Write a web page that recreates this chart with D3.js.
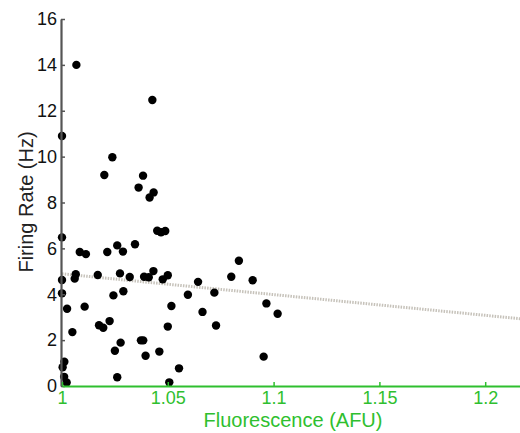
<!DOCTYPE html>
<html>
<head>
<meta charset="utf-8">
<script src="https://cdn.jsdelivr.net/npm/d3@7"></script>
<style>
  html, body { margin: 0; padding: 0; background: #fff; }
  svg { display: block; font-family: "Liberation Sans", Arial, sans-serif; }
</style>
</head>
<body>
<svg id="chart" width="520" height="433"></svg>
<script>
// Data
const fluorescence = [
  1.0068, 1.0000, 1.0238, 1.0200, 1.0383, 1.0427, 1.0362, 1.0433, 1.0414,
  1.0450, 1.0468, 1.0488, 1.0000, 1.0345, 1.0261, 1.0084, 1.0113, 1.0214,
  1.0288, 1.0065, 1.0060, 1.0169, 1.0274, 1.0320, 1.0388, 1.0410, 1.0432,
  1.0476, 1.0500, 1.0000, 1.0000, 1.0643, 1.0595, 1.0243, 1.0290, 1.0024,
  1.0107, 1.0517, 1.0664, 1.0049, 1.0175, 1.0195, 1.0225, 1.0500, 1.0373,
  1.0384, 1.0277, 1.0250, 1.0460, 1.0395, 1.0011, 1.0003, 1.0553, 1.0261,
  1.0010, 1.0022, 1.0507, 1.0836, 1.0800, 1.0901, 1.0720, 1.0966, 1.1019,
  1.0728, 1.0953
];
const firingRate = [
  14.00, 10.90, 9.97, 9.20, 9.17, 12.47, 8.65, 8.44, 8.22,
  6.77, 6.70, 6.76, 6.48, 6.18, 6.13, 5.84, 5.75, 5.84,
  5.86, 4.87, 4.68, 4.84, 4.91, 4.75, 4.76, 4.74, 5.01,
  4.65, 4.83, 4.62, 4.04, 4.54, 3.98, 3.95, 4.13, 3.37,
  3.46, 3.49, 3.23, 2.35, 2.65, 2.54, 2.83, 2.59, 1.99,
  1.99, 1.89, 1.54, 1.50, 1.32, 1.06, 0.82, 0.77, 0.38,
  0.40, 0.15, 0.16, 5.46, 4.76, 4.61, 4.07, 3.60, 3.15,
  2.64, 1.28
];
const trendX = [1.0, 1.22];
const trendY = [4.89, 2.90];
const xTicks = [1, 1.05, 1.1, 1.15, 1.2];
const xTickLabels = ["1", "1.05", "1.1", "1.15", "1.2"];
const yTicks = [0, 2, 4, 6, 8, 10, 12, 14, 16];
const xTitle = "Fluorescence (AFU)";
const yTitle = "Firing Rate (Hz)";

const green = "#2fbf2f";
const svg = d3.select("#chart");

const x = d3.scaleLinear().domain([1, 1.22]).range([62, 62 + 0.22 * 2116]);
const y = d3.scaleLinear().domain([0, 16]).range([386, 19]);

// Trend line (dotted, light gray)
svg.append("line")
  .attr("x1", x(trendX[0])).attr("y1", y(trendY[0]))
  .attr("x2", x(trendX[1])).attr("y2", y(trendY[1]))
  .attr("stroke", "#c6c2ba")
  .attr("stroke-width", 3)
  .attr("stroke-dasharray", "1.5,1.2");

// Points
svg.append("g").selectAll("circle")
  .data(fluorescence.map((f, i) => [f, firingRate[i]]))
  .join("circle")
  .attr("cx", d => x(d[0]))
  .attr("cy", d => y(d[1]))
  .attr("r", 4.2)
  .attr("fill", "#000");

// Y axis
const yAxis = svg.append("g")
  .attr("transform", `translate(${x(1) - 1},0)`)
  .call(d3.axisLeft(y).tickValues(yTicks).tickFormat(d3.format("d"))
    .tickSizeInner(-4).tickSizeOuter(0).tickPadding(4));
yAxis.select(".domain").attr("stroke", "#555").attr("stroke-width", 2.2);
yAxis.selectAll(".tick line").attr("stroke", "#555").attr("stroke-width", 1.5);
yAxis.selectAll(".tick text").attr("fill", "#111").style("font-size", "18px");

// X axis
const xAxis = svg.append("g")
  .attr("transform", `translate(0,${y(0)})`)
  .call(d3.axisBottom(x).tickValues(xTicks).tickFormat((d, i) => xTickLabels[i])
    .tickSizeInner(-4).tickSizeOuter(0).tickPadding(5));
xAxis.select(".domain").attr("stroke", green).attr("stroke-width", 2);
xAxis.selectAll(".tick line").attr("stroke", green).attr("stroke-width", 1.5);
xAxis.selectAll(".tick text").attr("fill", green).style("font-size", "18px");

// Titles
svg.append("text")
  .attr("x", 293).attr("y", 427)
  .attr("text-anchor", "middle")
  .attr("fill", green)
  .style("font-size", "20px")
  .text(xTitle);

svg.append("text")
  .attr("transform", "translate(33,202) rotate(-90)")
  .attr("text-anchor", "middle")
  .attr("fill", "#222")
  .style("font-size", "20px")
  .text(yTitle);
</script>
</body>
</html>
